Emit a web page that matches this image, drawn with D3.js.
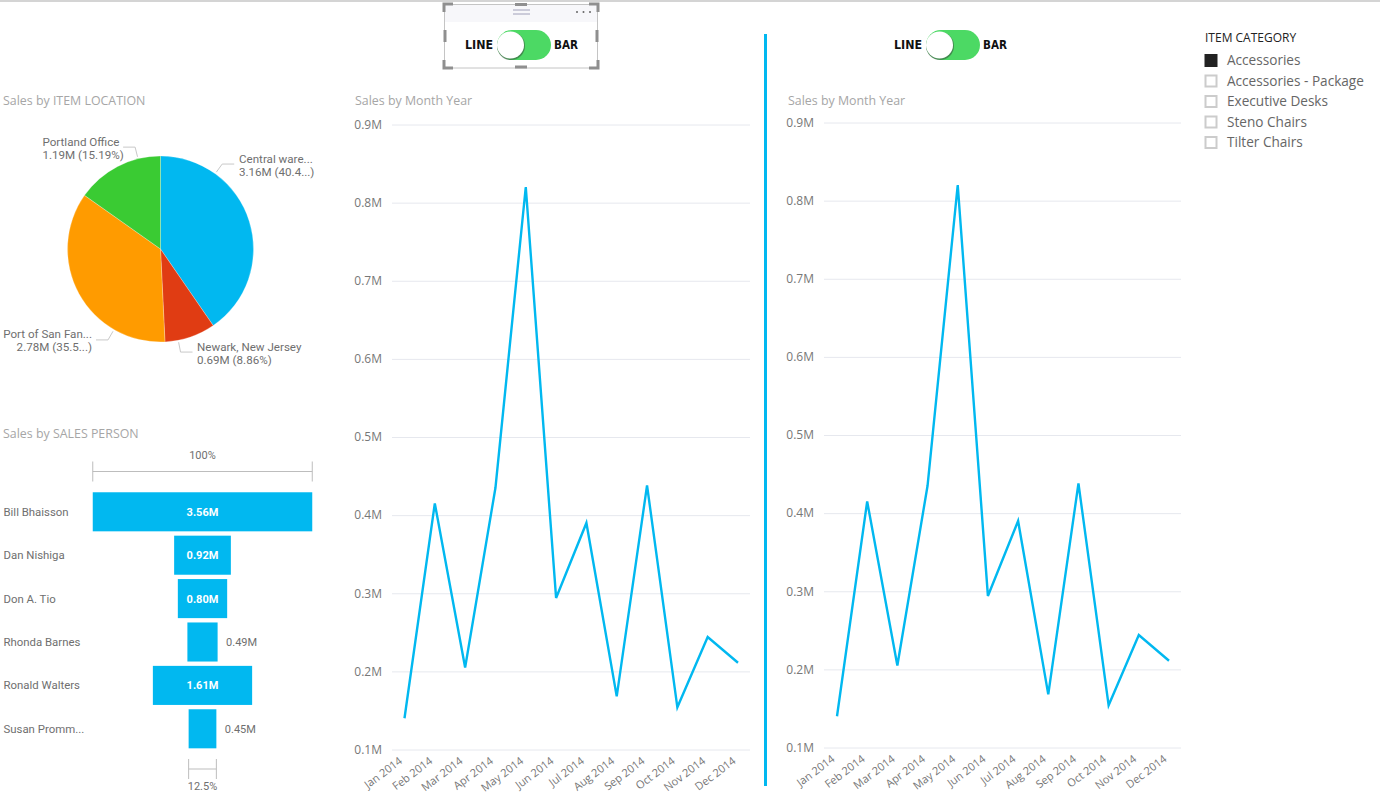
<!DOCTYPE html>
<html>
<head>
<meta charset="utf-8">
<script src="https://cdn.jsdelivr.net/npm/d3@7/dist/d3.min.js"></script>
<style>
  html, body { margin: 0; padding: 0; background: #fff; overflow: hidden; }
  text { font-family: "Open Sans", sans-serif; }
  .din { font-family: Roboto, sans-serif; }
</style>
</head>
<body>
<svg id="chart" width="1380" height="796"></svg>
<script>
// data
var months = ["Jan 2014", "Feb 2014", "Mar 2014", "Apr 2014", "May 2014", "Jun 2014",
              "Jul 2014", "Aug 2014", "Sep 2014", "Oct 2014", "Nov 2014", "Dec 2014"];
var monthSales = [0.14, 0.415, 0.205, 0.435, 0.82, 0.294, 0.39, 0.168, 0.438, 0.154, 0.244, 0.211];
var salesTicks = [0.1, 0.2, 0.3, 0.4, 0.5, 0.6, 0.7, 0.8, 0.9];

var locationNames = ["Central ware...", "Newark, New Jersey", "Port of San Fan...", "Portland Office"];
var locationLabels = ["3.16M (40.4...)", "0.69M (8.86%)", "2.78M (35.5...)", "1.19M (15.19%)"];
var locationValues = [3.16, 0.69, 2.78, 1.19];

var people = ["Bill Bhaisson", "Dan Nishiga", "Don A. Tio", "Rhonda Barnes", "Ronald Walters", "Susan Promm..."];
var peopleSales = [3.56, 0.92, 0.80, 0.49, 1.61, 0.45];

var categories = ["Accessories", "Accessories - Package", "Executive Desks", "Steno Chairs", "Tilter Chairs"];

var BLUE = "#01b8f0";
var svg = d3.select("#chart");

// top border of the window
svg.append("rect").attr("x", 0).attr("y", 0).attr("width", 1380).attr("height", 2).attr("fill", "#d4d4d4");

function title(x, y, str) {
    svg.append("text").attr("x", x).attr("y", y)
        .attr("font-size", 12.4).attr("fill", "#a6a6a6").text(str);
}

// ---- pie
title(3, 105, "Sales by ITEM LOCATION");

var pieColors = ["#01b8f0", "#e03c13", "#ff9b00", "#3acb33"];
var pieR = 93;
var pieG = svg.append("g").attr("transform", "translate(160.5,249)");
var arcs = d3.pie().sort(null)(locationValues);
var arc = d3.arc().innerRadius(0).outerRadius(pieR);

pieG.selectAll("path").data(arcs).join("path")
    .attr("d", arc)
    .attr("fill", function (d, i) { return pieColors[i]; })
    .attr("stroke", "#fff").attr("stroke-opacity", 0.5).attr("stroke-width", 0.5);

// power bi does not put the leaders on the slice middle, so these are set by hand
var pieLeaders = [
    { angle: 36, side: 1, textX: 78.5, anchor: "start" },
    { angle: 169, side: 1, textX: 36.5, anchor: "start" },
    { angle: 210, side: -1, textX: -68.5, anchor: "end" },
    { angle: -14, side: -1, textX: -118, anchor: "start" }
];
pieLeaders.forEach(function (l, i) {
    var a = l.angle * Math.PI / 180;
    var x0 = Math.sin(a) * (pieR + 2), y0 = -Math.cos(a) * (pieR + 2);
    var x1 = Math.sin(a) * (pieR + 12), y1 = -Math.cos(a) * (pieR + 12);
    pieG.append("polyline")
        .attr("points", [[x0, y0], [x1, y1], [x1 + l.side * 12, y1]].join(" "))
        .attr("fill", "none").attr("stroke", "#c8c8c8").attr("stroke-width", 1);
    var t = pieG.append("text").attr("class", "din").attr("font-size", 11.6).attr("fill", "#6f6f6f")
        .attr("text-anchor", l.anchor);
    t.append("tspan").attr("x", l.textX).attr("y", y1 - 1.5).text(locationNames[i]);
    t.append("tspan").attr("x", l.textX).attr("y", y1 + 11.5).text(locationLabels[i]);
});

// ---- funnel
title(3, 438, "Sales by SALES PERSON");

var funnelW = d3.scaleLinear().domain([0, d3.max(peopleSales)]).range([0, 219.5]);
var funnelY = d3.scaleBand().domain(people).range([490.1, 750.5]).paddingInner(0.1).paddingOuter(0.05);
var funnelMid = 202.5;
var fmt = function (v) { return v.toFixed(2) + "M"; };

var rows = svg.append("g").selectAll("g").data(people).join("g");
rows.append("text").attr("class", "din")
    .attr("x", 3.5)
    .attr("y", function (d) { return funnelY(d) + funnelY.bandwidth() / 2 + 4; })
    .attr("font-size", 11.4).attr("fill", "#6f6f6f")
    .text(function (d) { return d; });
rows.append("rect")
    .attr("x", function (d, i) { return funnelMid - funnelW(peopleSales[i]) / 2; })
    .attr("y", function (d) { return funnelY(d); })
    .attr("width", function (d, i) { return funnelW(peopleSales[i]); })
    .attr("height", funnelY.bandwidth())
    .attr("fill", BLUE);
rows.append("text").attr("class", "din")
    .attr("x", function (d, i) {
        var w = funnelW(peopleSales[i]);
        return w > 45 ? funnelMid : funnelMid + w / 2 + 24;
    })
    .attr("y", function (d) { return funnelY(d) + funnelY.bandwidth() / 2 + 4; })
    .attr("text-anchor", "middle")
    .attr("font-size", 11)
    .attr("font-weight", function (d, i) { return funnelW(peopleSales[i]) > 45 ? 700 : 400; })
    .attr("fill", function (d, i) { return funnelW(peopleSales[i]) > 45 ? "#fff" : "#6f6f6f"; })
    .text(function (d, i) { return fmt(peopleSales[i]); });

function bracket(value, y, label, labelY) {
    var w = funnelW(value), x0 = funnelMid - w / 2, x1 = funnelMid + w / 2;
    var g = svg.append("g").attr("stroke", "#bdbdbd").attr("fill", "none");
    g.append("line").attr("x1", x0).attr("x2", x1).attr("y1", y).attr("y2", y);
    g.append("line").attr("x1", x0).attr("x2", x0).attr("y1", y - 10).attr("y2", y + 10);
    g.append("line").attr("x1", x1).attr("x2", x1).attr("y1", y - 10).attr("y2", y + 10);
    svg.append("text").attr("class", "din").attr("x", funnelMid).attr("y", labelY)
        .attr("text-anchor", "middle").attr("font-size", 11).attr("fill", "#6f6f6f").text(label);
}
bracket(d3.max(peopleSales), 471.5, "100%", 459);
bracket(d3.min(peopleSales), 769, "12.5%", 790);

// ---- line charts
function lineChart(o) {
    title(o.titleX, 105, "Sales by Month Year");
    var x = d3.scalePoint().domain(months).range([o.x0, o.x1]);
    var y = d3.scaleLinear().domain([0.1, 0.9]).range([o.y0, o.y1]);
    var g = svg.append("g");

    var yAxis = d3.axisLeft(y).tickValues(salesTicks).tickSize(0).tickPadding(10)
        .tickFormat(function (v) { return v.toFixed(1) + "M"; });
    var ya = g.append("g").attr("transform", "translate(" + o.gridL + ",0)").call(yAxis);
    ya.select(".domain").remove();
    ya.selectAll("text").attr("font-size", 12).attr("fill", "#777").style("font-family", '"Open Sans", sans-serif');
    ya.selectAll("line").attr("x2", o.gridR - o.gridL).attr("stroke", "#e6e8ee").attr("stroke-width", 1);

    var xAxis = d3.axisBottom(x).tickSize(0).tickPadding(0);
    var xa = g.append("g").attr("transform", "translate(0," + o.y0 + ")").call(xAxis);
    xa.select(".domain").remove();
    xa.selectAll("text")
        .attr("font-size", 11).attr("fill", "#777").style("font-family", '"Open Sans", sans-serif')
        .attr("text-anchor", "end")
        .attr("dy", 0)
        .attr("transform", "translate(-2,13) rotate(-37)");

    var line = d3.line()
        .x(function (d, i) { return x(months[i]); })
        .y(function (d) { return y(d); });
    g.append("path").datum(monthSales)
        .attr("d", line).attr("fill", "none")
        .attr("stroke", BLUE).attr("stroke-width", 2.4);
}
lineChart({ titleX: 355, x0: 404.5, x1: 738, y0: 749.5, y1: 124.5, gridL: 392, gridR: 750 });
lineChart({ titleX: 788, x0: 837, x1: 1169, y0: 747.5, y1: 122.5, gridL: 824, gridR: 1181 });

// divider between both charts
svg.append("rect").attr("x", 764).attr("y", 34).attr("width", 3).attr("height", 752).attr("fill", BLUE);

// ---- toggles
function toggle(cx, cy) {
    var g = svg.append("g").attr("transform", "translate(" + cx + "," + cy + ")");
    g.append("rect").attr("x", -27).attr("y", -15).attr("width", 54).attr("height", 30).attr("rx", 15).attr("fill", "#4cd964");
    g.append("circle").attr("cx", -13).attr("cy", 1).attr("r", 14).attr("fill", "#3d6b46").attr("opacity", 0.7);
    g.append("circle").attr("cx", -13.5).attr("cy", 0).attr("r", 13.5).attr("fill", "#fff");
    g.append("text").attr("x", -31).attr("y", 4).attr("text-anchor", "end").attr("font-size", 11.5)
        .attr("font-weight", 700).attr("fill", "#111").style("font-family", '"DejaVu Sans", sans-serif')
        .attr("textLength", 28).attr("lengthAdjust", "spacingAndGlyphs").text("LINE");
    g.append("text").attr("x", 30).attr("y", 4).attr("font-size", 11.5)
        .attr("font-weight", 700).attr("fill", "#111").style("font-family", '"DejaVu Sans", sans-serif')
        .attr("textLength", 24).attr("lengthAdjust", "spacingAndGlyphs").text("BAR");
}

// selected visual frame around the left toggle
svg.append("rect").attr("x", 445).attr("y", 4).attr("width", 153).attr("height", 18).attr("fill", "#f7f7fa");
svg.append("rect").attr("x", 444.5).attr("y", 4.5).attr("width", 153).attr("height", 63.5)
    .attr("fill", "none").attr("stroke", "#c4c4c4");
var frameCorners = [[444, 4, 1, 1], [598, 4, -1, 1], [444, 68, 1, -1], [598, 68, -1, -1]];
frameCorners.forEach(function (c) {
    svg.append("path")
        .attr("d", "M" + (c[0] + c[2] * 9) + "," + c[1] + "H" + c[0] + "V" + (c[1] + c[3] * 8))
        .attr("fill", "none").attr("stroke", "#8f8f8f").attr("stroke-width", 3);
});
[[521, 4.5, 12, 3], [521, 67, 12, 3], [445, 36, 3, 12], [597, 36, 3, 12]].forEach(function (h) {
    svg.append("rect").attr("x", h[0] - h[2] / 2).attr("y", h[1] - h[3] / 2).attr("width", h[2]).attr("height", h[3]).attr("fill", "#8f8f8f");
});
[10, 14].forEach(function (y) {
    svg.append("line").attr("x1", 513).attr("x2", 530).attr("y1", y).attr("y2", y).attr("stroke", "#8b8ba8").attr("stroke-width", 0.8);
});
[577, 583.5, 590].forEach(function (x) {
    svg.append("circle").attr("cx", x).attr("cy", 12).attr("r", 1).attr("fill", "#666");
});
toggle(524, 45);
toggle(953, 45);

// ---- slicer
svg.append("text").attr("x", 1205).attr("y", 42).attr("font-size", 12).attr("fill", "#222").text("ITEM CATEGORY");
var slicerY = d3.scalePoint().domain(categories).range([60.5, 142.5]);
var items = svg.append("g").selectAll("g").data(categories).join("g");
items.append("rect")
    .attr("x", function (d, i) { return i == 0 ? 1204.5 : 1205.5; })
    .attr("y", function (d, i) { return slicerY(d) - (i == 0 ? 6.5 : 5.5); })
    .attr("width", function (d, i) { return i == 0 ? 13 : 11; })
    .attr("height", function (d, i) { return i == 0 ? 13 : 11; })
    .attr("fill", function (d, i) { return i == 0 ? "#222" : "#fff"; })
    .attr("stroke", function (d, i) { return i == 0 ? "none" : "#cccccc"; })
    .attr("stroke-width", 2);
items.append("text")
    .attr("x", 1227)
    .attr("y", function (d) { return slicerY(d) + 4.5; })
    .attr("font-size", 13.6).attr("fill", "#666")
    .text(function (d) { return d; });
</script>
</body>
</html>
